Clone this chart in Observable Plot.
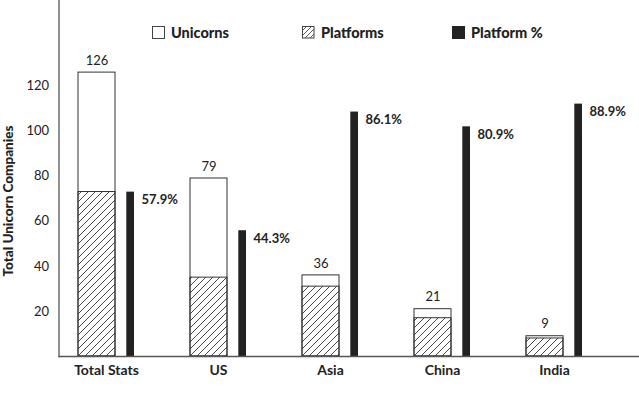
<!DOCTYPE html>
<html><head><meta charset="utf-8">
<script src="https://cdn.jsdelivr.net/npm/d3@7"></script>
<script src="https://cdn.jsdelivr.net/npm/@observablehq/plot@0.6"></script>
<style>
body{margin:0;background:#fff;font-family:Lato,sans-serif;color:#222;}
#wrap{position:relative;width:639px;height:395px;overflow:hidden;}
.lg{position:absolute;top:24px;display:flex;align-items:center;font-weight:900;font-size:14.5px;white-space:nowrap;}
.sw{width:12.5px;height:12.5px;box-sizing:border-box;margin-right:6.5px;}
.ytitle{position:absolute;left:8px;top:201px;transform:translate(-50%,-50%) rotate(-90deg);font-weight:900;font-size:13.5px;white-space:nowrap;}
</style></head><body>
<div id="wrap"></div>
<script>
const categories = ["Total Stats","US","Asia","China","India"];
const unicorns = [126,79,36,21,9];
const platforms = [73,35,31,17,8];
const platformPct = [57.9,44.3,86.1,80.9,88.9];
const yTicks = [20,40,60,80,100,120];
const legendLabels = ["Unicorns","Platforms","Platform %"];
const yTitle = "Total Unicorn Companies";

// percentage bars drawn on a secondary scale where 100% = total unicorns
const data = categories.map((c,i)=>({
  category:c, unicorns:unicorns[i], platforms:platforms[i], pct:platformPct[i],
  pctBar: platformPct[i]*unicorns[0]/100
}));

const chart = Plot.plot({
  width:639, height:395, marginLeft:58.5, marginRight:0, marginTop:0, marginBottom:39,
  style:{fontFamily:"Lato, sans-serif", color:"#222", background:"#fff"},
  x:{type:"band", domain:categories, range:[20.8,639.2], padding:0.497, label:null},
  y:{domain:[0,158], label:null},
  marks:[
    Plot.barY(data,{x:"category", y:"unicorns", fill:"#fff", stroke:"#333", strokeWidth:1, insetRight:19}),
    Plot.barY(data,{x:"category", y:"platforms", fill:"url(#hatchP)", stroke:"#333", strokeWidth:1, insetRight:19}),
    Plot.barY(data,{x:"category", y:"pctBar", fill:"#222", insetLeft:48.3}),
    Plot.text(data,{x:"category", y:"unicorns", text:d=>String(d.unicorns), dx:-9.5, dy:-12, lineAnchor:"middle", fontSize:13, fill:"#222"}),
    Plot.text(data,{x:"category", y:"pctBar", text:d=>d.pct.toFixed(1)+"%", textAnchor:"start", dx:35, dy:8, lineAnchor:"middle", fontSize:13, fontWeight:"bold", fill:"#222"}),
    Plot.axisY({ticks:yTicks, tickSize:0, tickPadding:10, fontSize:13, label:null}),
    Plot.axisX({tickSize:0, tickPadding:9, fontSize:14, fontWeight:"bold", label:null}),
    Plot.frame({anchor:"left", stroke:"#555", strokeWidth:1.3}),
    Plot.ruleY([0], {stroke:"#555", strokeWidth:1.3})
  ]
});

const ns = "http://www.w3.org/2000/svg";
const defs = document.createElementNS(ns,"defs");
defs.innerHTML = '<pattern id="hatchP" patternUnits="userSpaceOnUse" width="7" height="7"><path d="M0,7 L7,0 M-1.75,1.75 L1.75,-1.75 M5.25,8.75 L8.75,5.25" stroke="#333" stroke-width="0.9"/></pattern>';
chart.insertBefore(defs, chart.firstChild);

const wrap = document.getElementById("wrap");
wrap.appendChild(chart);

// legend
const hatchSvg = '<svg width="12.5" height="12.5" style="display:block"><defs><pattern id="hatchL" patternUnits="userSpaceOnUse" width="5" height="5"><path d="M0,5 L5,0 M-1.25,1.25 L1.25,-1.25 M3.75,6.25 L6.25,3.75" stroke="#333" stroke-width="0.8"/></pattern></defs><rect x="0.5" y="0.5" width="11.5" height="11.5" fill="url(#hatchL)" stroke="#444"/></svg>';
const legendPos = [152, 302, 452];
const swatches = [
  '<div class="sw" style="border:1px solid #444;background:#fff"></div>',
  '<div class="sw">'+hatchSvg+'</div>',
  '<div class="sw" style="background:#222"></div>'
];
legendLabels.forEach((t,i)=>{
  const d = document.createElement("div");
  d.className = "lg";
  d.style.left = legendPos[i]+"px";
  d.innerHTML = swatches[i] + '<span>'+t+'</span>';
  wrap.appendChild(d);
});

const yt = document.createElement("div");
yt.className = "ytitle";
yt.textContent = yTitle;
wrap.appendChild(yt);
</script>
</body></html>
